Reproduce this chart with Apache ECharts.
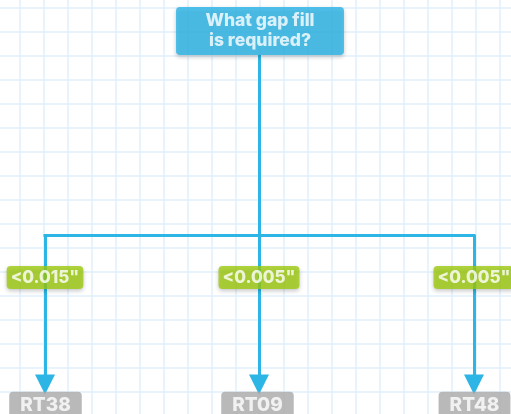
<!DOCTYPE html>
<html>
<head>
<meta charset="utf-8">
<script src="https://cdn.jsdelivr.net/npm/echarts@6/dist/echarts.min.js"></script>
<style>
html,body{margin:0;padding:0;background:#fff;}
#chart{width:511px;height:414px;}
</style>
</head>
<body>
<div id="chart"></div>
<script>
// ---- content (text of the decision tree) ----
const questionText = 'What gap fill\nis required?';
const conditionLabels = ['<0.015"', '<0.005"', '<0.005"'];
const productLabels = ['RT38', 'RT09', 'RT48'];

// ---- layout: background grid of 24px cells, first lines at x=20px, y=8px ----
const W = 511, H = 414;
const GRID = { x0: 20, y0: 8, cell: 24 };
const layout = {
  question: [260, 31],
  trunkTop: 55,
  busY: 235,
  branchX: [45, 259, 474],
  conditionY: 277.5,
  productX: [45.5, 257.5, 474.5],
  productY: 405.5,
  arrowEnd: 384.5
};
// pixel position -> data units (cells)
function P(x, y) { return [(x - GRID.x0) / GRID.cell, (y - GRID.y0) / GRID.cell]; }

const FONT = 'Inter, "Open Sans", sans-serif';
const shadow = { shadowBlur: 4, shadowColor: 'rgba(0,0,0,0.28)', shadowOffsetY: 2 };

const chart = echarts.init(document.getElementById('chart'), null, { renderer: 'canvas' });

const nodeData = [];
nodeData.push({
  value: P(layout.question[0], layout.question[1]),
  label: Object.assign({
    formatter: questionText, color: '#fff', fontFamily: FONT, fontWeight: 800,
    fontSize: 17.5, lineHeight: 20, width: 168, padding: [5, 0, 3, 0],
    backgroundColor: '#2bb5e8', borderRadius: 4
  }, shadow)
});
conditionLabels.forEach((t, i) => {
  nodeData.push({
    value: P(layout.branchX[i], layout.conditionY),
    label: Object.assign({
      formatter: t, color: '#fff', fontFamily: FONT, fontWeight: 800,
      fontSize: 17, lineHeight: 17, padding: [3, 4, 3, 4],
      backgroundColor: '#9cca0e', borderRadius: 4
    }, shadow)
  });
});
productLabels.forEach((t, i) => {
  nodeData.push({
    value: P(layout.productX[i], layout.productY),
    label: {
      formatter: t, color: '#fff', fontFamily: FONT, fontWeight: 800,
      fontSize: 19, lineHeight: 19, padding: [2.5, 11, 6, 11],
      backgroundColor: '#a8a8a8', borderRadius: 4
    }
  });
});

const gridLine = { show: true, showMinLine: false, showMaxLine: false, lineStyle: { color: '#e1effb', width: 1.5 } };
const lineColor = '#2cb5e5';
const option = {
  backgroundColor: '#ffffff',
  animation: false,
  grid: { left: 0, top: 0, right: 0, bottom: 0 },
  xAxis: {
    type: 'value', min: -GRID.x0 / GRID.cell, max: (W - GRID.x0) / GRID.cell,
    splitNumber: Math.round(W / GRID.cell),
    axisLine: { show: false }, axisTick: { show: false }, axisLabel: { show: false },
    splitLine: gridLine
  },
  yAxis: {
    type: 'value', inverse: true, min: -GRID.y0 / GRID.cell, max: (H - GRID.y0) / GRID.cell,
    splitNumber: Math.round(H / GRID.cell),
    axisLine: { show: false }, axisTick: { show: false }, axisLabel: { show: false },
    splitLine: gridLine
  },
  series: [
    {
      type: 'lines', coordinateSystem: 'cartesian2d', z: 3, silent: true,
      lineStyle: { color: lineColor, width: 3, opacity: 1, curveness: 0 },
      symbol: ['none', 'none'],
      data: [
        { coords: [P(layout.branchX[0] - 1.5, layout.busY), P(layout.branchX[2] + 1.5, layout.busY)] }
      ]
    },
    {
      type: 'lines', coordinateSystem: 'cartesian2d', z: 3, silent: true,
      lineStyle: { color: lineColor, width: 3, opacity: 1, curveness: 0 },
      symbol: ['none', 'path://M10,0 L20,11 L0,11 Z'],
      symbolSize: 20,
      symbolKeepAspect: true,
      data: [
        { coords: [P(layout.branchX[0], layout.busY), P(layout.branchX[0], layout.arrowEnd)] },
        { coords: [P(layout.branchX[1], layout.trunkTop), P(layout.branchX[1], layout.arrowEnd)] },
        { coords: [P(layout.branchX[2], layout.busY), P(layout.branchX[2], layout.arrowEnd)] }
      ]
    },
    {
      type: 'scatter', z: 5, silent: true, clip: false,
      symbolSize: 1, itemStyle: { color: 'rgba(0,0,0,0)' },
      label: { show: true, position: 'inside', align: 'center', verticalAlign: 'middle' },
      data: nodeData
    }
  ]
};
chart.setOption(option);
</script>
</body>
</html>
